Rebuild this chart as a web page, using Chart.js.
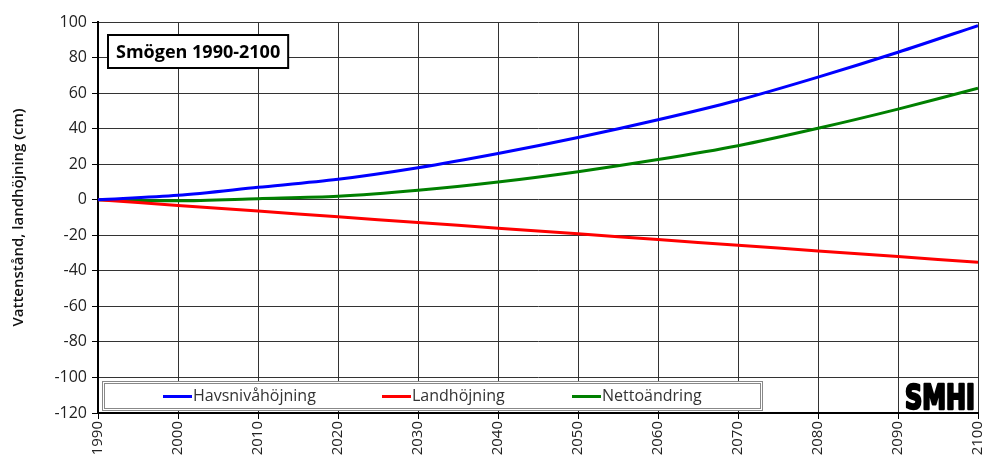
<!DOCTYPE html>
<html>
<head>
<meta charset="utf-8">
<script src="https://cdn.jsdelivr.net/npm/chart.js@4.4.1/dist/chart.umd.min.js"></script>
<style>
  html, body { margin: 0; padding: 0; background: #fff; }
  #wrap { width: 987px; height: 459px; }
</style>
</head>
<body>
<div id="wrap"><canvas id="myChart" width="987" height="459"></canvas></div>
<script>
// data (cm, relative to 1990)
var years = [1990, 2000, 2010, 2020, 2030, 2040, 2050, 2060, 2070, 2080, 2090, 2100];
var havsniva = [0, 2.5, 7, 11.5, 18, 26, 35, 45, 56, 69, 83, 98];
var landhojning = [0, -3.2, -6.4, -9.6, -12.8, -16, -19.2, -22.4, -25.6, -28.8, -32, -35.2];
var netto = [0, -0.6, 0.6, 1.9, 5.3, 10, 15.8, 22.6, 30.4, 40.2, 51, 62.7];

var seriesNames = ["Havsnivåhöjning", "Landhöjning", "Nettoändring"];
var seriesColors = ["#0000ff", "#ff0000", "#008000"];
var titleText = "Smögen 1990-2100";
var yTitle = "Vattenstånd, landhöjning (cm)";

var FONT = "'Open Sans', 'Noto Sans', sans-serif";

function pts(vals) {
    return years.map(function (y, i) { return { x: y, y: vals[i] }; });
}

// legend box, title box and logo drawn inside the plot area
var boxes = {
    id: "boxes",
    afterDraw: function (chart) {
        var c = chart.ctx, a = chart.chartArea;
        c.save();

        // title box
        c.font = "bold 18px " + FONT;
        var tw = c.measureText(titleText).width;
        var bx = a.left + 10, by = a.top + 13, bw = tw + 16, bh = 33;
        c.fillStyle = "#fff";
        c.fillRect(bx, by, bw, bh);
        c.lineWidth = 2;
        c.strokeStyle = "#000";
        c.strokeRect(bx, by, bw, bh);
        c.fillStyle = "#000";
        c.textBaseline = "middle";
        c.fillText(titleText, bx + 8, by + bh / 2 + 1);

        // legend
        var lx = a.left + 4, ly = a.bottom - 32, lw = 660, lh = 29;
        c.fillStyle = "#fff";
        c.fillRect(lx, ly, lw, lh);
        c.lineWidth = 1;
        c.strokeStyle = "#888";
        c.strokeRect(lx + 0.5, ly + 0.5, lw, lh);
        c.strokeRect(lx + 2.5, ly + 2.5, lw - 4, lh - 4);
        var starts = [61, 280, 470];
        c.font = "16px " + FONT;
        for (var i = 0; i < 3; i++) {
            var sx = lx + starts[i], sy = ly + lh / 2 + 1;
            c.strokeStyle = seriesColors[i];
            c.lineWidth = 3;
            c.beginPath();
            c.moveTo(sx, sy);
            c.lineTo(sx + 29, sy);
            c.stroke();
            c.fillStyle = "#333";
            c.fillText(seriesNames[i], sx + 30, sy);
        }

        // logo
        c.font = "bold 34px 'DejaVu Sans Condensed', 'DejaVu Sans', sans-serif";
        var mw = c.measureText("SMHI").width;
        c.translate(a.right - 73, a.bottom - 4);
        c.scale(70 / mw, 1);
        c.textBaseline = "alphabetic";
        c.fillStyle = "#000";
        c.strokeStyle = "#000";
        c.lineWidth = 2.5;
        c.lineJoin = "round";
        c.strokeText("SMHI", 0, 0);
        c.fillText("SMHI", 0, 0);

        c.restore();
    }
};

var ctx = document.getElementById("myChart").getContext("2d");
var myChart = new Chart(ctx, {
    type: "line",
    data: {
        datasets: [
            { label: seriesNames[0], data: pts(havsniva), borderColor: seriesColors[0], borderWidth: 3, pointRadius: 0, tension: 0.3 },
            { label: seriesNames[1], data: pts(landhojning), borderColor: seriesColors[1], borderWidth: 3, pointRadius: 0, tension: 0.3 },
            { label: seriesNames[2], data: pts(netto), borderColor: seriesColors[2], borderWidth: 3, pointRadius: 0, tension: 0.3 },
        ],
    },
    options: {
        responsive: false,
        animation: false,
        layout: { padding: { top: 22, right: 0, left: 10, bottom: 0 } },
        plugins: {
            legend: { display: false },
            tooltip: { enabled: false },
        },
        scales: {
            x: {
                type: "linear",
                min: 1990,
                max: 2100,
                ticks: {
                    stepSize: 10,
                    minRotation: 90,
                    maxRotation: 90,
                    padding: 2,
                    color: "#222",
                    font: { family: FONT, size: 15 },
                    callback: function (v) { return String(v); },
                },
                grid: { color: "#333", lineWidth: 1, tickLength: 6, tickColor: "#000" },
                border: { color: "#000", width: 2 },
                afterFit: function (s) { s.height = 46; s.paddingRight = 9; s.paddingLeft = 0; },
            },
            y: {
                min: -120,
                max: 100,
                ticks: {
                    stepSize: 20,
                    padding: 5,
                    color: "#222",
                    font: { family: FONT, size: 16 },
                },
                grid: { color: "#333", lineWidth: 1, tickLength: 6, tickColor: "#000" },
                border: { color: "#000", width: 2 },
                title: {
                    display: true,
                    text: yTitle,
                    color: "#111",
                    font: { family: FONT, size: 15, weight: "600" },
                    padding: { top: 0, bottom: 4 },
                },
                afterFit: function (s) { s.width = 88; },
            },
        },
    },
    plugins: [boxes],
});
</script>
</body>
</html>
